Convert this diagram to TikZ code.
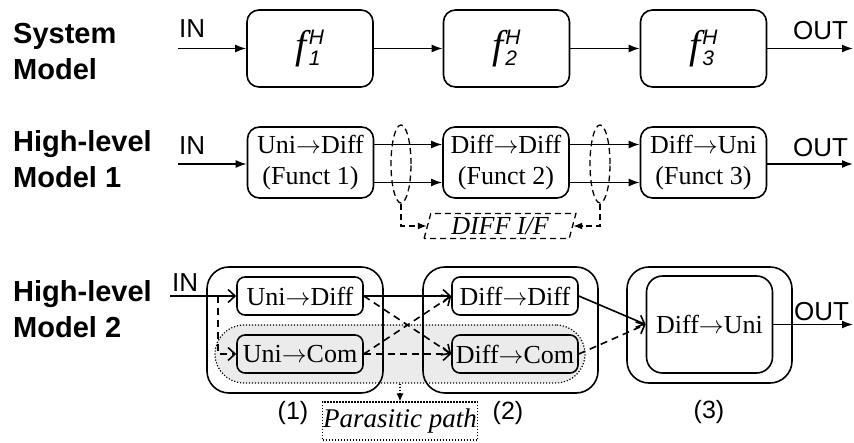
\documentclass[tikz,border=0pt]{standalone}
\usepackage{fontspec}
\setmainfont{Liberation Serif}
\setsansfont{Liberation Sans}
\usetikzlibrary{arrows.meta,shapes.geometric,calc}
\newcommand{\fH}[1]{{\fontsize{40}{40}\selectfont\itshape f}\kern2pt\rlap{\raisebox{-7pt}{\sffamily\itshape\fontsize{21}{21}\selectfont #1}}\raisebox{14pt}{\sffamily\itshape\fontsize{21}{21}\selectfont H}}
\newcommand{\ra}{\ensuremath{\rightarrow}}
\begin{document}
\begin{tikzpicture}[x=1pt,y=-1pt,
  lbl/.style={font=\sffamily\bfseries\fontsize{29}{34}\selectfont, anchor=base west, inner sep=0pt},
  io/.style={font=\sffamily\fontsize{26}{30}\selectfont, anchor=base west, inner sep=0pt},
  num/.style={font=\sffamily\fontsize{25}{30}\selectfont, inner sep=0pt},
  sbox/.style={draw, line width=1.6pt, rounded corners=12pt, minimum width=126pt, minimum height=77pt, inner sep=0pt},
  hbox/.style={sbox, minimum height=71pt, align=center, font=\fontsize{26}{31}\selectfont},
  ar/.style={line width=1.6pt, -{Latex[length=11pt,width=8pt]}},
  dsh/.style={dash pattern=on 7pt off 5pt},
  dar/.style={line width=1.3pt, dash pattern=on 6pt off 4pt, -{Latex[length=9pt,width=7pt]}},
  ibox/.style={draw, line width=1.6pt, rounded corners=8pt, minimum width=126pt, minimum height=38pt, inner sep=0pt, font=\fontsize{26}{30}\selectfont},
  obox/.style={draw, line width=1.6pt, rounded corners=22pt},
  oar/.style={line width=1.6pt, -{Straight Barb[length=7pt,width=13pt]}},
  dotline/.style={line width=1.2pt, dash pattern=on 1.2pt off 1.8pt}
]
\useasboundingbox (0,0) rectangle (854,443);

% left labels
\node[lbl] (s1) at (13,44) {System};
\node[lbl] (s2) at (13,80) {Model};
\node[lbl] (h1) at (13,152) {High-level};
\node[lbl] (h2) at (13,188) {Model 1};
\node[lbl] (k1) at (13,302) {High-level};
\node[lbl] (k2) at (13,338) {Model 2};

% ---- Row 1: system model
\node[sbox] (b11) at (310,48.5) {\fH{1}};
\node[sbox] (b12) at (506.5,48.5) {\fH{2}};
\node[sbox] (b13) at (703.5,48.5) {\fH{3}};
\coordinate (in1) at (178,48.5);
\coordinate (out1) at (853,48.5);
\node[io] (tin1) at (179,38) {IN};
\node[io] (tout1) at (793,40) {OUT};
\draw[ar] (in1) -- (b11.west);
\draw[ar] (b11.east) -- (b12.west);
\draw[ar] (b12.east) -- (b13.west);
\draw[ar] (b13.east) -- (out1);

% ---- Row 2: high-level model 1
\node[hbox] (b21) at (310.5,162.5) {Uni\ra Diff\\(Funct 1)};
\node[hbox] (b22) at (506,162.5) {Diff\ra Diff\\(Funct 2)};
\node[hbox] (b23) at (703.5,162.5) {Diff\ra Uni\\(Funct 3)};
\coordinate (in2) at (178,164);
\coordinate (out2) at (853,164);
\node[io] (tin2) at (179,155) {IN};
\node[io] (tout2) at (793,157) {OUT};
\draw[ar] (in2) -- (in2 -| b21.west);
\draw[ar] ([yshift=18pt]b21.east) -- ([yshift=18pt]b22.west);
\draw[ar] ([yshift=-20pt]b21.east) -- ([yshift=-20pt]b22.west);
\draw[ar] ([yshift=18pt]b22.east) -- ([yshift=18pt]b23.west);
\draw[ar] ([yshift=-20pt]b22.east) -- ([yshift=-20pt]b23.west);
\draw[ar] (out2 -| b23.east) -- (out2);
\node[draw, ellipse, line width=1.3pt, dash pattern=on 6pt off 4pt, minimum width=20pt, minimum height=78pt, inner sep=0pt] (e1) at (401,164) {};
\node[draw, ellipse, line width=1.3pt, dash pattern=on 6pt off 4pt, minimum width=20pt, minimum height=78pt, inner sep=0pt] (e2) at (600,164) {};
\node[draw, trapezium, trapezium left angle=76, trapezium right angle=104, trapezium stretches=true,
  minimum width=152pt, minimum height=25pt, inner sep=1pt, line width=1.3pt, dash pattern=on 6pt off 4pt,
  font=\itshape\fontsize{26}{30}\selectfont] (dif) at (500,226) {DIFF I/F};
\draw[dar] (e1.south) |- (dif.west);
\draw[dar] (e2.south) |- (dif.east);

% ---- Row 3: high-level model 2
\node[draw, dotline, fill=gray!16, rounded corners=29pt, minimum width=370pt, minimum height=58pt] (par) at (400,354) {};
\node[obox, minimum width=176pt, minimum height=126pt] (o1) at (295,330) {};
\node[obox, minimum width=175pt, minimum height=126pt] (o2) at (510.5,330) {};
\node[obox, minimum width=165pt, minimum height=116pt] (o3) at (709.5,325) {};
\node[ibox, fill=white] (ud) at (300,296) {Uni\ra Diff};
\node[ibox, fill=gray!16] (uc) at (300,354) {Uni\ra Com};
\node[ibox, fill=white] (dd) at (515,296) {Diff\ra Diff};
\node[ibox, fill=gray!16] (dc) at (515,354) {Diff\ra Com};
\node[ibox, minimum height=97pt, rounded corners=16pt] (du) at (709.5,324.5) {Diff\ra Uni};
\coordinate (in3) at (170,296);
\coordinate (br) at (218,296);
\coordinate (out3) at (853,324.5);
\node[io] (tin3) at (172,292) {IN};
\node[io] (tout3) at (794,321) {OUT};
\draw[oar] (in3) -- (ud.west);
\draw[oar, dsh] (br) |- (uc.west);
\draw[oar] (ud.east) -- (dd.west);
\draw[oar, dsh] (ud.east) -- (dc.west);
\draw[oar, dsh] (uc.east) -- (dd.west);
\draw[oar, dsh] (uc.east) -- (dc.west);
\draw[oar] (dd.east) -- (du.west);
\draw[oar, dsh] (dc.east) -- (du.west);
\draw[ar] (du.east) -- (out3);

\node[draw, dotline, minimum width=155pt, minimum height=38pt, inner sep=0pt, font=\itshape\fontsize{27}{30}\selectfont] (pp) at (400,421) {Parasitic path};
\draw[dotline, -{Latex[length=8pt,width=7pt]}] (par.south) -- (pp.north);
\node[num] (l1) at (293,413) {(1)};
\node[num] (l2) at (508,413) {(2)};
\node[num] (l3) at (709,412) {(3)};
\end{tikzpicture}
\end{document}
